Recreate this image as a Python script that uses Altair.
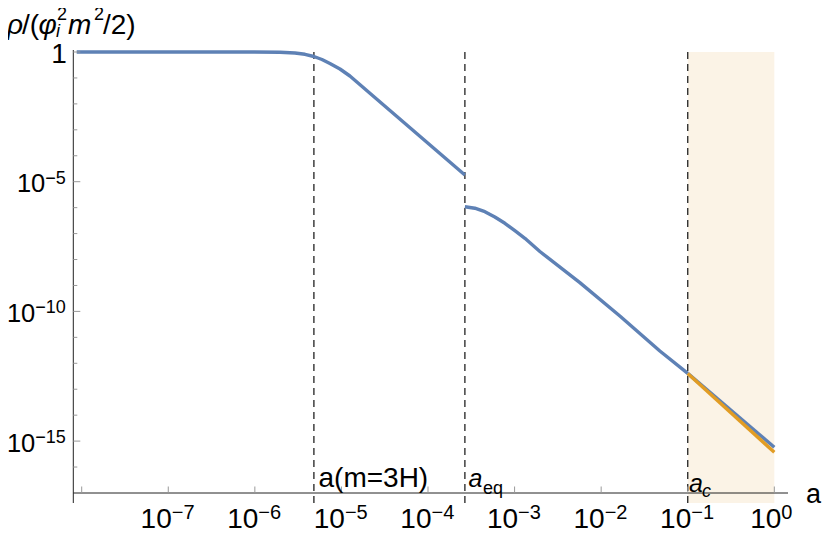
import altair as alt
import pandas as pd

# ---- data (log10 values) ----
# segment before a_eq
seg1_loga = [-8.058, -6.057, -5.710, -5.537, -5.421, -5.318, -5.225, -5.133, -5.017, -4.902, -4.671, -3.574]
seg1_logr = [0.0, 0.0, -0.012, -0.039, -0.089, -0.173, -0.289, -0.443, -0.655, -0.925, -1.592, -4.742]
# segment after a_eq
seg2_loga = [-3.574, -3.459, -3.343, -3.228, -3.112, -2.997, -2.881, -2.708, -2.246, -1.784, -1.322, -1.0]
seg2_logr = [-5.964, -6.022, -6.156, -6.360, -6.604, -6.889, -7.182, -7.690, -8.891, -10.177, -11.527, -12.39]
# segment after a_c (blue) and the orange approximation
seg3_loga = [-1.0, 0.0]
seg3_logr = [-12.39, -15.239]
orange_loga = [-1.0, 0.0]
orange_logr = [-12.39, -15.432]

# vertical markers
vline_loga = [-5.318, -3.574, -1.0]
shade_a = [0.1, 1.0]

# ticks
xtick_exp = [-8, -7, -6, -5, -4, -3, -2, -1, 0]
xlabel_exp = ["−7", "−6", "−5", "−4", "−3", "−2", "−1"]
xlabel_val = [1e-7, 1e-6, 1e-5, 1e-4, 1e-3, 1e-2, 1e-1]
ymajor_exp = [0, -5, -10, -15]
yminor_exp = [-1, -2, -3, -4, -6, -7, -8, -9, -11, -12, -13, -14, -16]

W, H = 714.7, 451.0
BLUE, ORANGE = "#5E81B5", "#E19C24"
FONT = "Liberation Sans"

xs = alt.Scale(type="log", domain=[10 ** -8.097, 10 ** 0.158], nice=False)
ys = alt.Scale(type="log", domain=[10 ** -17.386, 1.0], nice=False)

def X(f):
    return alt.X(f, type="quantitative", scale=xs, axis=None)

def Y(f):
    return alt.Y(f, type="quantitative", scale=ys, axis=None)

rows = []
for seg, la, lr in [("s1", seg1_loga, seg1_logr), ("s2", seg2_loga, seg2_logr), ("s3", seg3_loga, seg3_logr)]:
    for i, (p, q) in enumerate(zip(la, lr)):
        rows.append({"seg": seg, "i": i, "a": 10 ** p, "rho": 10 ** q})
blue_df = pd.DataFrame(rows)
orange_df = pd.DataFrame({"i": [0, 1], "a": [10 ** v for v in orange_loga], "rho": [10 ** v for v in orange_logr]})

shade = alt.Chart(pd.DataFrame({"a": [shade_a[0]], "a2": [shade_a[1]]})).mark_rect(color="#FBF3E6").encode(
    x=X("a"), x2="a2", y=alt.value(0), y2=alt.value(H))

vlines = alt.Chart(pd.DataFrame({"a": [10 ** v for v in vline_loga]})).mark_rule(
    color="#222", strokeWidth=1.3, strokeDash=[7, 5]).encode(x=X("a"), y=alt.value(0), y2=alt.value(H))

blue = alt.Chart(blue_df).mark_line(color=BLUE, strokeWidth=3.4, strokeCap="butt", strokeJoin="round").encode(
    x=X("a"), y=Y("rho"), detail="seg:N", order="i:Q")
orange = alt.Chart(orange_df).mark_line(color=ORANGE, strokeWidth=3.4).encode(
    x=X("a"), y=Y("rho"), order="i:Q")

AX_Y = 441.0  # pixel row of the x axis (rho = 1e-17)
xaxis = alt.Chart(pd.DataFrame({"k": [0]})).mark_rule(color="#222", strokeWidth=1).encode(
    x=alt.value(0), x2=alt.value(W), y=alt.value(AX_Y))
yaxis = alt.Chart(pd.DataFrame({"k": [0]})).mark_rule(color="#222", strokeWidth=1).encode(
    x=alt.value(0), y=alt.value(-2), y2=alt.value(H))

xt = alt.Chart(pd.DataFrame({"a": [10.0 ** e for e in xtick_exp]})).mark_rule(color="#999", strokeWidth=1).encode(
    x=X("a"), y=alt.value(AX_Y - 6.5), y2=alt.value(AX_Y))
ytmaj = alt.Chart(pd.DataFrame({"r": [10.0 ** e for e in ymajor_exp]})).mark_rule(color="#999", strokeWidth=1).encode(
    y=Y("r"), x=alt.value(0), x2=alt.value(7))
ytmin = alt.Chart(pd.DataFrame({"r": [10.0 ** e for e in yminor_exp]})).mark_rule(color="#999", strokeWidth=1).encode(
    y=Y("r"), x=alt.value(0), x2=alt.value(4))

# x tick labels: "10" + superscript exponent
XB, XE = 476.3, 467.0
xl_df = pd.DataFrame({"a": xlabel_val, "e": xlabel_exp})
xl_base = alt.Chart(xl_df).mark_text(font=FONT, fontSize=28, align="right", baseline="alphabetic", dx=3.5, color="#000").encode(
    x=X("a"), y=alt.value(XB), text=alt.value("10"))
xl_exp = alt.Chart(xl_df).mark_text(font=FONT, fontSize=20, align="left", baseline="alphabetic", dx=3.5, color="#000").encode(
    x=X("a"), y=alt.value(XE), text="e:N")
x0_df = pd.DataFrame({"a": [1.0], "e": ["0"]})
x0_base = alt.Chart(x0_df).mark_text(font=FONT, fontSize=28, align="right", baseline="alphabetic", dx=7, color="#000").encode(
    x=X("a"), y=alt.value(XB), text=alt.value("10"))
x0_exp = alt.Chart(x0_df).mark_text(font=FONT, fontSize=20, align="left", baseline="alphabetic", dx=7, color="#000").encode(
    x=X("a"), y=alt.value(XE), text="e:N")

# y tick labels
YBS, YES = 25.5, 18.0
y1_df = pd.DataFrame({"r": [1.0], "t": ["1"]})
y1 = alt.Chart(y1_df).mark_text(font=FONT, fontSize=28, align="right", baseline="alphabetic", dx=-6.5, dy=11, color="#000").encode(
    y=Y("r"), x=alt.value(0), text="t:N")
y5_df = pd.DataFrame({"r": [1e-5], "e": ["−5"]})
y10_df = pd.DataFrame({"r": [1e-10, 1e-15], "e": ["−10", "−15"]})
ylabs = []
for d, ew in [(y5_df, 20.5), (y10_df, 30.5)]:
    ylabs.append(alt.Chart(d).mark_text(font=FONT, fontSize=YES, align="right", baseline="alphabetic", dx=-7.5, dy=2, color="#000").encode(
        y=Y("r"), x=alt.value(0), text="e:N"))
    ylabs.append(alt.Chart(d).mark_text(font=FONT, fontSize=YBS, align="right", baseline="alphabetic", dx=-7.5 - ew, dy=10.5, color="#000").encode(
        y=Y("r"), x=alt.value(0), text=alt.value("10")))

def txt(s, x, y, size=28, style="normal"):
    return alt.Chart(pd.DataFrame({"k": [0]})).mark_text(
        font=FONT, fontSize=size, fontStyle=style, align="left", baseline="alphabetic", color="#000").encode(
        x=alt.value(x), y=alt.value(y), text=alt.value(s))

OX, OY = 73.3, 52.0  # page position of the plot origin
def P(x, y):
    return x - OX, y - OY

TB = 33.5
title_parts = [
    ("ρ", 7, TB, 28, "italic"),
    ("/(", 22, TB, 28, "normal"),
    ("φ", 38.5, TB, 28, "italic"),
    ("2", 57, TB - 13.5, 18, "normal"),
    ("i", 56, TB + 3.5, 18, "italic"),
    ("m", 68, TB, 28, "italic"),
    ("2", 94, TB - 13.5, 18, "normal"),
    ("/2)", 103, TB, 28, "normal"),
]
titles = [txt(s, *P(x, y), size=sz, style=st) for s, x, y, sz, st in title_parts]

annots = [
    txt("a(m=3H)", *P(318.5, 486.5), size=28),
    txt("a", *P(468.5, 486.7), size=25, style="italic"),
    txt("eq", *P(483, 493.5), size=18),
    txt("a", *P(689, 491.5), size=25, style="italic"),
    txt("c", *P(702, 496.5), size=18, style="italic"),
    txt("a", *P(806, 502.5), size=27),
]

chart = alt.layer(
    shade, vlines, blue, orange, xaxis, yaxis, xt, ytmaj, ytmin,
    xl_base, xl_exp, x0_base, x0_exp, y1, *ylabs, *titles, *annots
).properties(
    width=W, height=H,
    padding={"left": OX - 8, "top": OY - 8, "right": 34, "bottom": 26.5},
    autosize=alt.AutoSizeParams(type="none"),
).configure_view(stroke=None)

chart.save("out.html", embed_options={"renderer": "svg", "actions": False})
